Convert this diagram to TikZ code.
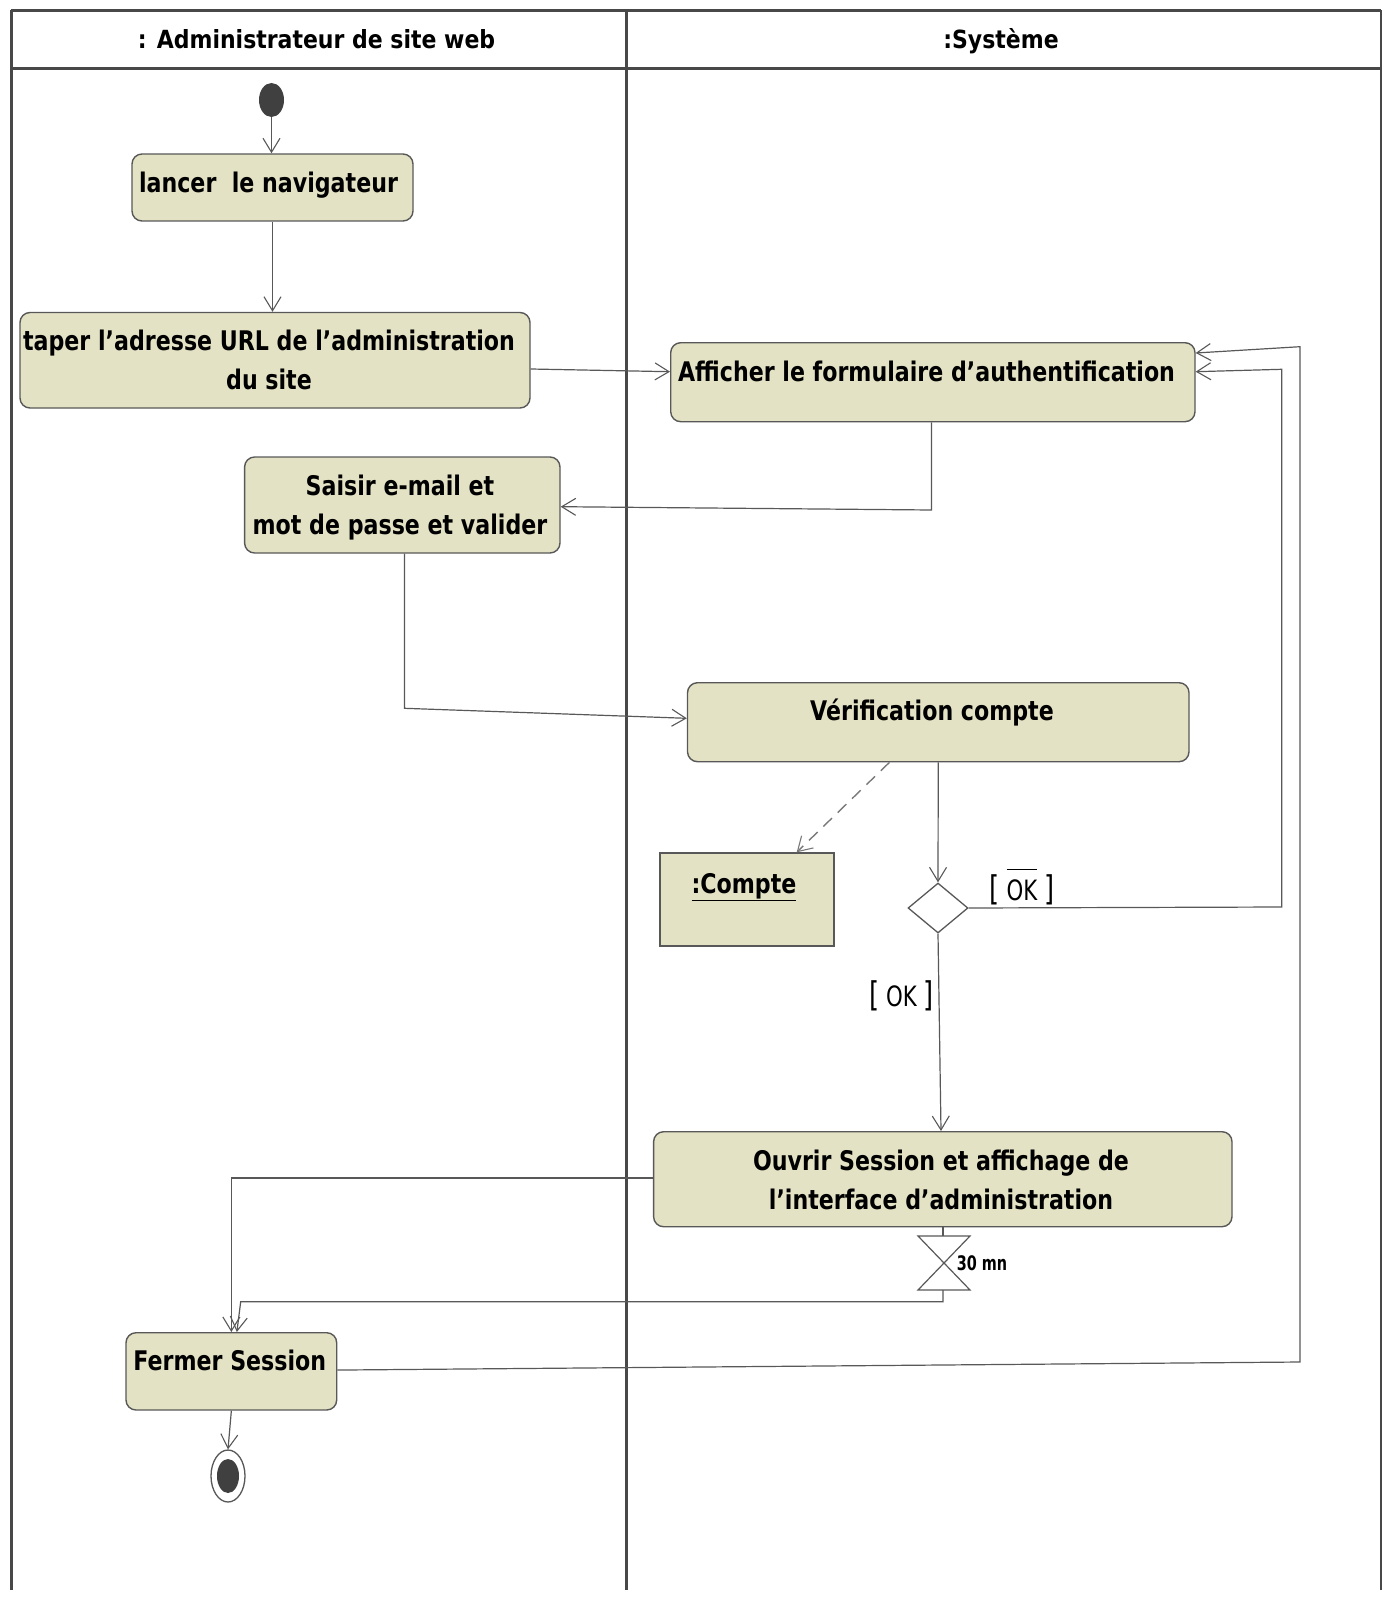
\documentclass[tikz,border=0pt]{standalone}
\usepackage{fontspec}
\usetikzlibrary{arrows.meta,shapes.geometric}
\newfontfamily\actfont{DejaVu Sans}[FakeStretch=0.82]
\newfontfamily\hdfont{DejaVu Sans}[FakeStretch=0.88]
\newfontfamily\tmfont{DejaVu Sans}[FakeStretch=0.72]
\newfontfamily\grdfont{DejaVu Sans}[FakeStretch=0.76]
\definecolor{actfill}{RGB}{228,226,196}
\definecolor{lanec}{RGB}{72,72,72}
\definecolor{linec}{RGB}{88,88,88}
\definecolor{dotc}{RGB}{64,64,64}
\newcommand\twol[2]{\vtop{\halign{\hfil##\hfil\cr#1\cr#2\cr}}}
\newcommand\brk[1]{{\fontsize{34}{34}\selectfont #1}}
\newcommand\ovl[1]{\begingroup\setbox0\hbox{#1}\rlap{\raisebox{30pt}{\rule{\wd0}{1.2pt}}}\box0\endgroup}
\tikzset{
  lane/.style={draw=lanec, line width=2.8pt},
  act/.style={draw=linec, line width=1.4pt, fill=actfill, rounded corners=10pt, inner sep=0pt},
  objbox/.style={draw=linec, line width=1.4pt, fill=actfill, inner sep=0pt},
  acttext/.style={font=\actfont\bfseries\fontsize{27}{39}\selectfont, anchor=base, inner sep=0pt},
  hdtext/.style={font=\hdfont\bfseries\fontsize{25}{28}\selectfont, anchor=base, inner sep=0pt},
  grdtext/.style={font=\grdfont\fontsize{28}{32}\selectfont, anchor=base, inner sep=0pt},
  tmtext/.style={font=\tmfont\bfseries\fontsize{20}{24}\selectfont, anchor=base, inner sep=0pt},
  conn/.style={draw=linec, line width=1.2pt},
  flow/.style={conn, -{Straight Barb[length=14pt,width=17pt,line width=1.1pt]}},
  objflow/.style={draw=linec!80, line width=1.4pt, dash pattern=on 12pt off 8pt,
    -{Straight Barb[length=14pt,width=17pt,line width=1.1pt,sep=0pt]}},
}
\begin{document}
\begin{tikzpicture}[x=1pt,y=-1pt]
\useasboundingbox (0,0) rectangle (1388,1602);
% swimlanes
\draw[lane] (11.2,10.2) -- (1381,10.2);
\draw[lane] (11.2,68.3) -- (1381,68.3);
\draw[lane] (11.2,10.2) -- (11.2,1590);
\draw[lane] (626.3,10.2) -- (626.3,1590);
\draw[lane] (1381,10.2) -- (1381,1590);
\node[hdtext] (h1) at (316.5,48.3) {: Administrateur de site web};
\node[hdtext] (h2) at (1001,48.3) {:Système};
% start
\node[ellipse, fill=dotc, minimum width=25pt, minimum height=34pt, inner sep=0pt] (start) at (271.5,100) {};
% actions
\node[act, minimum width=281pt, minimum height=67pt] (a1) at (272.5,187.5) {};
\node[acttext] (a1t) at (268.5,193) {lancer\ \ le navigateur};
\node[act, minimum width=510pt, minimum height=95.5pt] (a2) at (275,360.25) {};
\node[acttext] (a2t) at (269,350.7) {\twol{taper l’adresse URL de l’administration}{du site}};
\node[act, minimum width=524.3pt, minimum height=79pt] (a3) at (932.85,382.2) {};
\node[acttext] (a3t) at (926.5,381.7) {Afficher le formulaire d’authentification};
\node[act, minimum width=315.4pt, minimum height=96pt] (a4) at (402.3,505) {};
\node[acttext] (a4t) at (400,495) {\twol{Saisir e-mail et}{mot de passe et valider}};
\node[act, minimum width=501.5pt, minimum height=79pt] (a5) at (938.25,722.2) {};
\node[acttext] (a5t) at (932,720) {Vérification compte};
\node[objbox, minimum width=174pt, minimum height=93pt] (compte) at (747,899.5) {};
\node[acttext] (comptet) at (744,893) {\underline{:Compte}};
\node[diamond, draw=linec, line width=1.3pt, fill=white, minimum width=60pt, minimum height=50pt, inner sep=0pt] (dec) at (938,908) {};
\node[act, minimum width=578.4pt, minimum height=95pt] (a6) at (942.8,1179.2) {};
\node[acttext] (a6t) at (941,1170) {\twol{Ouvrir Session et affichage de}{l’interface d’administration}};
\node[act, minimum width=210.7pt, minimum height=77.3pt] (fer) at (231.35,1371.35) {};
\node[acttext] (fert) at (229.8,1370.7) {Fermer Session};
% end
\node[ellipse, draw=linec, line width=1.3pt, fill=white, minimum width=34pt, minimum height=52pt, inner sep=0pt] (end) at (228,1476) {};
\fill[dotc] (end.center) ellipse [x radius=11pt, y radius=17pt];
% time event (hourglass)
\coordinate (tmtop) at (943,1236);
\coordinate (tmbot) at (943,1290);
\draw[conn] (918,1236) -- (970,1236) -- (918,1290) -- (970,1290) -- cycle;
\node[tmtext] (tmt) at (982,1270.7) {30 mn};
% guards
\node[grdtext] (gnok) at (1022,900) {\brk{[} \ovl{OK} \brk{]}};
\node[grdtext] (gok) at (901.5,1006.7) {\brk{[} OK \brk{]}};
% corner coordinates
\coordinate (c34) at (931.5,510);
\coordinate (c45) at (404.5,708.3);
\coordinate (cnok1) at (1281.7,907);
\coordinate (cnok2) at (1281.7,369.3);
\coordinate (cfer1) at (1300,1362);
\coordinate (cfer2) at (1300,346.7);
\coordinate (ctm1) at (943,1301.7);
\coordinate (ctm2) at (240.7,1301.7);
% flows
\draw[flow] (start.south) -- (start.south |- a1.north);
\draw[flow] (a1.south) -- (a1.south |- a2.north);
\draw[flow] ([yshift=-8.75pt]a2.east) -- ([yshift=10.5pt]a3.west);
\draw[flow] (a3.south -| c34) -- (c34) -- ([yshift=-1.7pt]a4.east);
\draw[flow] (a4.south -| c45) -- (c45) -- ([yshift=3.9pt]a5.west);
\draw[objflow] ([xshift=-48.85pt]a5.south) -- ([xshift=49.7pt]compte.north);
\draw[flow] (a5.south) -- (dec.north);
\draw[flow] (dec.south) -- ([xshift=-1.8pt]a6.north);
\draw[flow] (dec.east) -- (cnok1) -- (cnok2) -- ([yshift=10.5pt]a3.east);
\draw[flow] ([yshift=1.2pt]a6.west) -| (fer.north);
\draw[conn] (a6.south -| tmtop) -- (tmtop);
\draw[flow] (tmbot) -- (ctm1) -- (ctm2) -- ([xshift=5.5pt]fer.north);
\draw[flow] ([yshift=1.3pt]fer.east) -- (cfer1) -- (cfer2) -- ([yshift=29.2pt]a3.east);
\draw[flow] (fer.south) -- (end.north);
\end{tikzpicture}
\end{document}
